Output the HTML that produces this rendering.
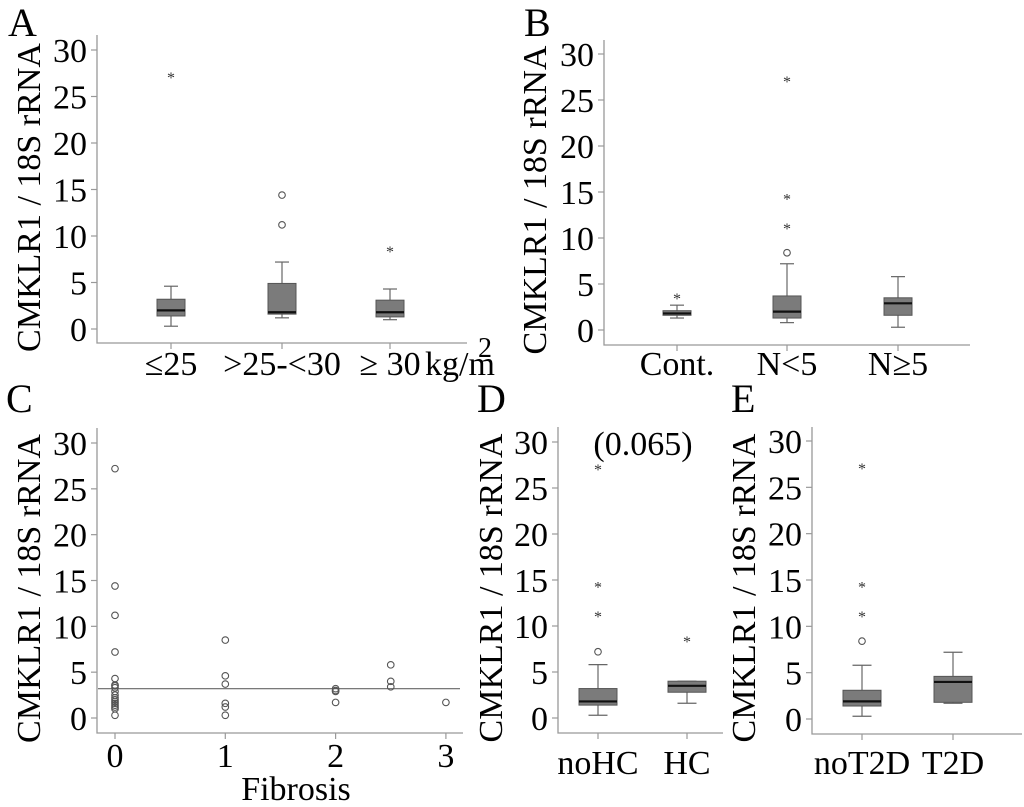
<!DOCTYPE html>
<html><head><meta charset="utf-8"><style>
body{margin:0;background:#fff;}
svg{display:block;}
svg text{font-family:"Liberation Serif","Times New Roman","DejaVu Serif","Noto Serif CJK SC",serif;}
</style></head><body>
<svg id="fig" width="1024" height="807" viewBox="0 0 1024 807"></svg>
<script>
// ---- data ----
const catsA=["≤25",">25-<30","≥ 30"];
const boxA=[[0.3,1.4,2.0,3.2,4.6],[1.2,1.6,1.8,4.9,7.2],[1.0,1.3,1.8,3.1,4.3]];
const circA=[[],[11.2,14.4],[]];
const starA=[[27.2],[],[8.5]];
const catsB=["Cont.","N<5","N≥5"];
const boxB=[[1.3,1.6,1.8,2.1,2.7],[0.8,1.3,2.0,3.7,7.2],[0.3,1.6,2.9,3.5,5.8]];
const circB=[[],[8.4],[]];
const starB=[[3.6],[11.2,14.4,27.2],[]];
const catsD=["noHC","HC"];
const boxD=[[0.3,1.4,1.8,3.2,5.8],[1.6,2.8,3.5,4.0,4.0]];
const circD=[[7.2],[]];
const starD=[[11.2,14.4,27.2],[8.5]];
const catsE=["noT2D","T2D"];
const boxE=[[0.3,1.4,1.9,3.1,5.8],[1.7,1.8,4.0,4.6,7.2]];
const circE=[[8.4],[]];
const starE=[[11.2,14.4,27.2],[]];
const fibX=[0,0,0,0,0,0,0,0,0,0,0,0,0,0,0,0,0,0,1,1,1,1,1,1,2,2,2,2,2.5,2.5,2.5,3];
const fibY=[27.2,14.4,11.2,7.2,4.3,3.6,3.5,3.3,2.9,2.5,2.2,2.0,1.8,1.6,1.4,1.2,1.0,0.3,8.5,4.6,3.7,1.6,1.2,0.3,3.2,3.0,2.9,1.7,5.8,4.0,3.4,1.7];
const fibLine=3.2;
const fibTicks=[0,1,2,3];
const yTicks=[0,5,10,15,20,25,30];

const NS="http://www.w3.org/2000/svg";
const svg=document.getElementById('fig');
function mk(tag,attrs,parent,text){const e=document.createElementNS(NS,tag);for(const k in attrs)e.setAttribute(k,attrs[k]);if(text!==undefined)e.textContent=text;(parent||svg).appendChild(e);return e;}

function panel(p){
  const g=mk('g',{});
  
  
  const y=v=>p.y0+(p.y30-p.y0)*v/30;
  const l=mk('text',{x:p.lx,y:p.ly,'font-size':40},g,p.letter);
  
  
  const ax=mk('path',{d:`M${p.ax},${p.top}V${p.bot}H${p.right}`,stroke:'#999',fill:'none','stroke-width':1.3},g);
  
  
  yTicks.forEach(t=>{
    mk('line',{x1:p.ax-6,x2:p.ax,y1:y(t),y2:y(t),stroke:'#999','stroke-width':1.2},g);
    const tl=mk('text',{x:p.ax-10,y:y(t)+12,'font-size':34,'text-anchor':'end'},g,t);
    
    
  });
  const yt=mk('text',{transform:`translate(${p.tx},${(p.y0+p.y30)/2+8}) rotate(-90)`,'font-size':34,'text-anchor':'middle'},g,'CMKLR1 / 18S rRNA');
  
  
  return {g,y};
}

function boxPanel(p,cats,boxes,circs,stars){
  const {g,y}=panel(p);
  cats.forEach((c,i)=>{
    const cx=p.cx[i];const b=boxes[i];const w=p.bw;
    mk('line',{x1:cx,x2:cx,y1:p.bot,y2:p.bot+6,stroke:'#999','stroke-width':1.2},g);
    const xl=mk('text',{x:cx,y:p.xly,'font-size':34,'text-anchor':'middle'},g,c);
    
    
    mk('line',{x1:cx,x2:cx,y1:y(b[0]),y2:y(b[1]),stroke:'#666','stroke-width':1.2},g);
    mk('line',{x1:cx,x2:cx,y1:y(b[3]),y2:y(b[4]),stroke:'#666','stroke-width':1.2},g);
    mk('line',{x1:cx-w/4,x2:cx+w/4,y1:y(b[0]),y2:y(b[0]),stroke:'#666','stroke-width':1.2},g);
    mk('line',{x1:cx-w/4,x2:cx+w/4,y1:y(b[4]),y2:y(b[4]),stroke:'#666','stroke-width':1.2},g);
    const r=mk('rect',{x:cx-w/2,y:y(b[3]),width:w,height:y(b[1])-y(b[3]),fill:'#7b7b7b',stroke:'#555','stroke-width':1},g);
    
    
    mk('line',{x1:cx-w/2,x2:cx+w/2,y1:y(b[2]),y2:y(b[2]),stroke:'#111','stroke-width':2.2},g);
    circs[i].forEach(v=>{
      const o=mk('circle',{cx:cx,cy:y(v),r:3.3,fill:'none',stroke:'#555','stroke-width':1.1},g);
      
      
    });
    stars[i].forEach(v=>{
      const s=mk('text',{x:cx,y:y(v)+7,'font-size':16,'text-anchor':'middle',fill:'#333'},g,'*');
      
      
    });
  });
  return {g,y};
}

const A=boxPanel({id:'a',letter:'A',lx:8,ly:36,ax:97,right:467,top:35,bot:343,y0:329,y30:50,tx:40,bw:28,cx:[171,282,390],xly:375},catsA,boxA,circA,starA);
const u=mk('text',{x:425,y:375,'font-size':34},A.g,'kg/m');


mk('text',{x:478,y:357,'font-size':28},A.g,'2');
boxPanel({id:'b',letter:'B',lx:524,ly:36,ax:604,right:970,top:40,bot:345,y0:330,y30:54,tx:546,bw:28,cx:[677,787,898],xly:375},catsB,boxB,circB,starB);
const D=boxPanel({id:'d',letter:'D',lx:477,ly:412,ax:558,right:723,top:427,bot:733,y0:718,y30:442,tx:502,bw:38,cx:[598,687],xly:774},catsD,boxD,circD,starD);
const pv=mk('text',{x:643,y:455,'font-size':34,'text-anchor':'middle'},D.g,'(0.065)');


boxPanel({id:'e',letter:'E',lx:731,ly:412,ax:812,right:1022,top:427,bot:734,y0:719,y30:441,tx:755,bw:38,cx:[862,953],xly:774},catsE,boxE,circE,starE);

// panel C scatter
const C=panel({id:'c',letter:'C',lx:6,ly:412,ax:97,right:463,top:428,bot:733,y0:718,y30:443,tx:40});
const xC=v=>115+v*110.3;
fibTicks.forEach(t=>{
  mk('line',{x1:xC(t),x2:xC(t),y1:733,y2:739,stroke:'#999','stroke-width':1.2},C.g);
  const xl=mk('text',{x:xC(t),y:767,'font-size':34,'text-anchor':'middle'},C.g,t);
  
  
});
const xt=mk('text',{x:296,y:800,'font-size':34,'text-anchor':'middle'},C.g,'Fibrosis');


const fl=mk('line',{x1:98,x2:460,y1:C.y(fibLine),y2:C.y(fibLine),stroke:'#666','stroke-width':1.2},C.g);


fibX.forEach((xv,i)=>{
  const o=mk('circle',{cx:xC(xv),cy:C.y(fibY[i]),r:3.3,fill:'none',stroke:'#555','stroke-width':1.1},C.g);
  
  
});
</script>
</body></html>
